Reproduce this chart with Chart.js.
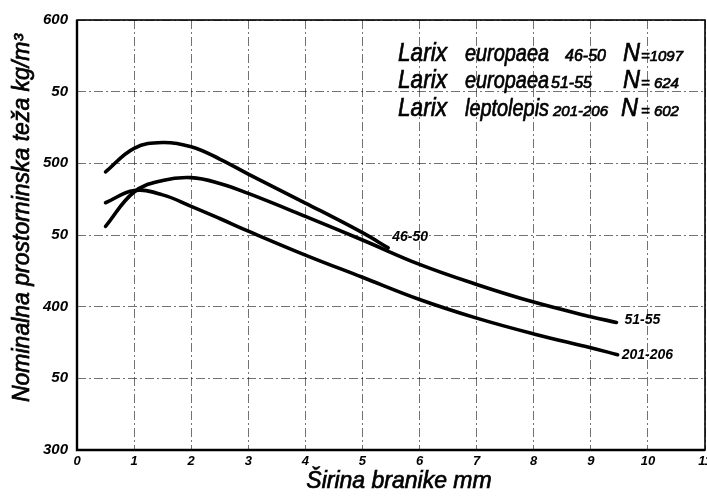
<!DOCTYPE html>
<html>
<head>
<meta charset="utf-8">
<script src="https://cdn.jsdelivr.net/npm/chart.js@4/dist/chart.umd.min.js"></script>
<style>
html,body{margin:0;padding:0;background:#fff;}
#c{display:block;}
</style>
</head>
<body>
<canvas id="c" width="707" height="496"></canvas>
<script>
// ---- data ----
const seriesNames = ['46-50', '51-55', '201-206'];
const x4650 = [0.5, 1, 1.5, 2, 2.5, 3, 4, 5, 5.45];
const y4650 = [494, 510.5, 514.5, 511.5, 503, 492.5, 472.3, 451.6, 441];
const x5155 = [0.5, 1, 1.5, 2, 2.5, 3, 4, 5, 6, 7, 8, 9, 9.45];
const y5155 = [456, 480, 488, 490, 486, 479, 463, 446.5, 429.5, 415.5, 403.2, 393, 389];
const x201 = [0.5, 1, 1.5, 2, 2.5, 3, 4, 5, 6, 7, 8, 9, 9.47];
const y201 = [472.5, 481, 478, 470, 461.5, 452.7, 436, 420.5, 405, 392, 381, 371.3, 366.5];
const xTickLabels = ['0','1','2','3','4','5','6','7','8','9','10','11'];
const yTickLabels = ['300','50','400','50','500','50','600'];
const legendLines = [
  ['Larix', 'europaea', '46-50', 'N', '=1097'],
  ['Larix', 'europaea', '51-55', 'N', '= 624'],
  ['Larix', 'leptolepis', '201-206', 'N', '= 602']
];
const xTitle = 'Širina branike mm';
const yTitle = 'Nominalna prostorninska teža kg/m³';

const toPts = (xs, ys) => xs.map((x, i) => ({x: x, y: ys[i]}));

const FONT = '"Liberation Sans", "DejaVu Sans", sans-serif';
const lineStyle = {
  borderColor: '#000', borderWidth: 3.6, pointRadius: 0,
  tension: 0.4, fill: false,
  borderCapStyle: 'round', borderJoinStyle: 'round'
};

const labelOffsets = [[4, -11], [8, -2], [4, 0]];

function heavyText(ctx, t, x, y, mw) {
  ctx.fillText(t, x, y, mw);
  ctx.strokeText(t, x, y, mw);
}

const decor = {
  id: 'decor',
  afterDraw(chart) {
    const ctx = chart.ctx, a = chart.chartArea;
    ctx.save();
    // frame
    ctx.strokeStyle = '#000';
    ctx.lineWidth = 1.6;
    ctx.strokeRect(a.left, a.top, a.right - a.left, a.bottom - a.top);
    ctx.lineWidth = 2.4;
    ctx.beginPath();
    ctx.moveTo(a.left, a.top); ctx.lineTo(a.left, a.bottom); ctx.lineTo(a.right, a.bottom);
    ctx.stroke();

    ctx.fillStyle = '#000';
    ctx.lineWidth = 0.7;
    ctx.textBaseline = 'alphabetic';
    ctx.textAlign = 'left';
    // legend text block
    const segX = [[398, 49], [465, 84], [551, 60], [623, 17], [641, 42]];
    const baseY = [61, 88, 116];
    legendLines.forEach((ln, r) => {
      const sizes = [26, 24, 16, 26, 15];
      ln.forEach((t, k) => {
        let sz = sizes[k];
        let x = segX[k][0], w = segX[k][1];
        if (k === 2) {
          if (r === 0) { x = 565; w = 45; }
          else if (r === 1) { x = 551; w = 44; }
          else { x = 553; w = 64; sz = 15; }
        }
        if (k === 3 && r === 2) x = 621;
        ctx.font = 'italic ' + sz + 'px ' + FONT;
        const mw = ctx.measureText(t).width;
        heavyText(ctx, t, x, baseY[r], Math.min(mw, w));
      });
    });

    // curve end labels
    ctx.font = 'bold italic 14px ' + FONT;
    ctx.textBaseline = 'middle';
    chart.data.datasets.forEach((ds, i) => {
      const meta = chart.getDatasetMeta(i);
      const last = meta.data[meta.data.length - 1];
      const t = seriesNames[i];
      const mw = ctx.measureText(t).width;
      ctx.fillText(t, last.x + labelOffsets[i][0], last.y + labelOffsets[i][1], Math.min(mw, i === 2 ? 60 : 41));
    });

    // axis titles
    ctx.textAlign = 'center';
    ctx.textBaseline = 'middle';
    ctx.font = 'italic 23px ' + FONT;
    heavyText(ctx, xTitle, 399, 482, 210);
    ctx.save();
    ctx.translate(23, 218);
    ctx.rotate(-Math.PI / 2);
    ctx.font = 'italic 23px ' + FONT;
    const tw = ctx.measureText(yTitle).width;
    heavyText(ctx, yTitle, 0, 0, Math.min(tw, 378));
    ctx.restore();
    ctx.restore();
  }
};

new Chart(document.getElementById('c'), {
  type: 'line',
  data: {
    datasets: [
      Object.assign({label: seriesNames[0], data: toPts(x4650, y4650)}, lineStyle),
      Object.assign({label: seriesNames[1], data: toPts(x5155, y5155)}, lineStyle),
      Object.assign({label: seriesNames[2], data: toPts(x201, y201)}, lineStyle)
    ]
  },
  options: {
    responsive: false,
    animation: false,
    events: [],
    layout: {padding: {top: 20, right: 2, left: 0, bottom: 0}},
    plugins: {legend: {display: false}, tooltip: {enabled: false}},
    scales: {
      x: {
        type: 'linear', min: 0, max: 11,
        afterFit(s) { s.height = 46; s.paddingRight = 0; s.paddingLeft = 0; },
        ticks: {
          stepSize: 1, color: '#000', padding: 4, maxRotation: 0, autoSkip: false,
          font: {family: FONT, size: 13, style: 'italic', weight: 'bold'},
          callback: (v, i) => xTickLabels[i]
        },
        grid: {color: 'rgba(0,0,0,0.55)', lineWidth: 1, drawTicks: false},
        border: {display: false, dash: [9, 3, 2, 3]}
      },
      y: {
        min: 300, max: 600,
        afterFit(s) { s.width = 77; },
        ticks: {
          stepSize: 50, color: '#000', padding: 9,
          font: {family: FONT, size: 15, style: 'italic', weight: 'bold'},
          callback: (v, i) => yTickLabels[i]
        },
        grid: {color: 'rgba(0,0,0,0.55)', lineWidth: 1, drawTicks: false},
        border: {display: false, dash: [9, 3, 2, 3]}
      }
    }
  },
  plugins: [decor]
});
</script>
</body>
</html>
